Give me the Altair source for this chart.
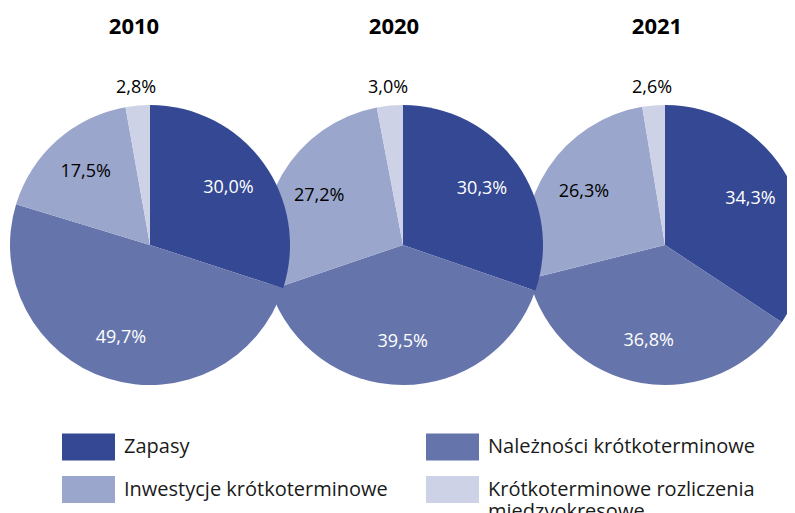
import math
import json
import altair as alt
import pandas as pd

years = ["2010", "2020", "2021"]
categories = [
    "Zapasy",
    "Należności krótkoterminowe",
    "Inwestycje krótkoterminowe",
    "Krótkoterminowe rozliczenia miedzvokresowe",
]
values_2010 = [30.0, 49.7, 17.5, 2.8]
values_2020 = [30.3, 39.5, 27.2, 3.0]
values_2021 = [34.3, 36.8, 26.3, 2.6]
colors = ["#344893", "#6575ab", "#9aa6cb", "#cdd2e6"]

rows = []
for yr, vals in zip(years, [values_2010, values_2020, values_2021]):
    for i, (c, v) in enumerate(zip(categories, vals)):
        rows.append({"year": yr, "category": c, "order": i, "value": v,
                     "label": f"{v:.1f}%".replace(".", ",")})
df = pd.DataFrame(rows)

FONT = "Open Sans"
R = 140
centers = {"2010": (142, 237), "2020": (395, 237), "2021": (657, 237)}
title_x = {"2010": 126, "2020": 386, "2021": 649}

color_scale = alt.Scale(domain=list(range(len(categories))), range=colors)
theta_scale = alt.Scale(domain=[0, 100], range=[0, 2 * math.pi])

legend_names = [c if "rozliczenia" not in c else
                ["Krótkoterminowe rozliczenia", " miedzvokresowe"] for c in categories]
label_expr = json.dumps(legend_names, ensure_ascii=False) + "[datum.value]"

legend = alt.Legend(
    orient="none", legendX=54, legendY=412, columns=2, direction="horizontal",
    title=None,
    symbolType="M-1,-0.51H1V0.51H-1Z", symbolSize=2809, symbolStrokeWidth=0,
    symbolOpacity=1,
    labelFontSize=20, labelFont=FONT, labelColor="#1a1a1a", labelOffset=9,
    labelLimit=500, rowPadding=2, columnPadding=38,
    labelExpr=label_expr,
)

base = alt.Chart(df)
layers = []
for yr in ["2021", "2020", "2010"]:
    cx, cy = centers[yr]
    b = (base.transform_filter(alt.datum.year == yr)
         .transform_stack(stack="value", as_=["start", "end"], groupby=["year"],
                          sort=[alt.SortField("order")])
         .transform_calculate(mid="(datum.start + datum.end) / 2"))
    arcs = b.mark_arc(radius=R).encode(
        x=alt.value(cx), y=alt.value(cy),
        theta=alt.Theta("start:Q", scale=theta_scale),
        theta2="end:Q",
        color=alt.Color("order:O", scale=color_scale, legend=legend),
    )
    txt_in = b.transform_filter(alt.datum.value >= 5).mark_text(
        radius=97, font=FONT, fontSize=18).encode(
        x=alt.value(cx), y=alt.value(cy),
        theta=alt.Theta("mid:Q", scale=theta_scale),
        text="label:N",
        color=alt.condition(alt.FieldOneOfPredicate(field="order", oneOf=[0, 1]),
                            alt.value("white"), alt.value("black")),
    )
    txt_out = b.transform_filter(alt.datum.value < 5).mark_text(
        radius=158, font=FONT, fontSize=18, color="black").encode(
        x=alt.value(cx), y=alt.value(cy),
        theta=alt.Theta("mid:Q", scale=theta_scale),
        text="label:N",
    )
    layers += [arcs, txt_in, txt_out]

title_df = pd.DataFrame({"year": years})
for yr in years:
    layers.append(
        alt.Chart(title_df).transform_filter(alt.datum.year == yr)
        .mark_text(font=FONT, fontSize=22, fontWeight="bold", color="black")
        .encode(x=alt.value(title_x[yr]), y=alt.value(19), text="year:N")
    )

chart = alt.layer(*layers).properties(
    width=779, height=505, padding=0,
    autosize=alt.AutoSizeParams(type="none"),
).configure_view(stroke=None)

chart.save("out.html", embed_options={"renderer": "svg", "actions": False})
